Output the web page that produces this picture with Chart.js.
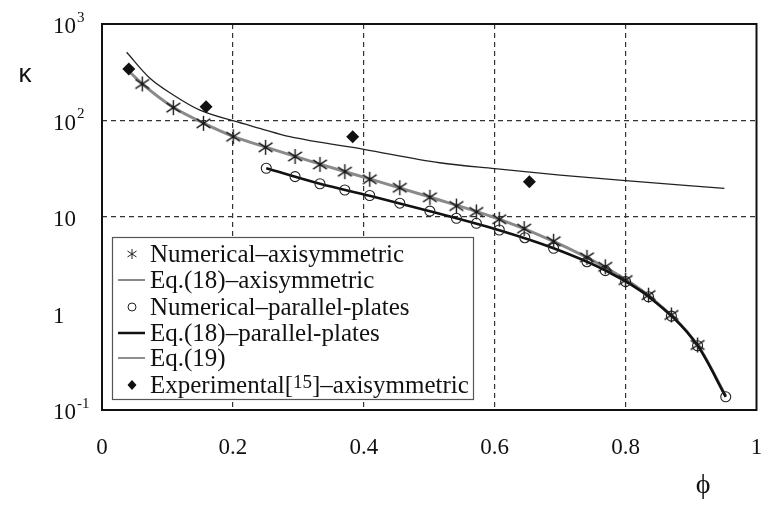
<!DOCTYPE html>
<html>
<head>
<meta charset="utf-8">
<script src="https://cdn.jsdelivr.net/npm/chart.js@4.4.1/dist/chart.umd.min.js"></script>
<style>
  html, body { margin: 0; padding: 0; background: #ffffff; }
  #wrap { width: 763px; height: 507px; }
</style>
</head>
<body>
<div id="wrap"><canvas id="c" width="763" height="507"></canvas></div>
<script>
// ---------- data ----------
const seriesNames = [
  'Numerical\u2013axisymmetric',
  'Eq.(18)\u2013axisymmetric',
  'Numerical\u2013parallel-plates',
  'Eq.(18)\u2013parallel-plates',
  'Eq.(19)',
  'Experimental[15]\u2013axisymmetric'
];

const xTickValues = [0, 0.2, 0.4, 0.6, 0.8, 1];
const yTickValues = [1000, 100, 10, 1, 0.1];
const yTickBase = ['10', '10', '10', '1', '10'];
const yTickExp = ['3', '2', '', '', '-1'];
const xAxisTitle = '\u03D5';
const yAxisTitle = '\u03BA';

// Numerical – axisymmetric (asterisks)
const phiNumAxi = [0.0615, 0.109, 0.155, 0.2005, 0.250, 0.295, 0.333, 0.371, 0.409, 0.455, 0.501, 0.5415, 0.572, 0.607, 0.645, 0.690, 0.741, 0.769, 0.800, 0.835, 0.870, 0.910];
const kNumAxi   = [239, 136, 93.5, 67.9, 52.7, 42.4, 35.0, 29.5, 24.6, 20.1, 16.0, 13.0, 11.3, 9.47, 7.58, 5.6, 3.82, 3.05, 2.22, 1.55, 0.965, 0.472];

// Eq.(18) – axisymmetric (grey curve)
const phiEqAxi = [0.040, 0.0615, 0.109, 0.155, 0.2005, 0.250, 0.333, 0.409, 0.501, 0.607, 0.690, 0.769, 0.835, 0.910, 0.953];
const kEqAxi   = [330, 240, 137, 94, 68.5, 53, 35.3, 24.8, 16.1, 9.5, 5.6, 3.0, 1.53, 0.47, 0.14];

// Numerical – parallel plates (circles)
const phiNumPP = [0.251, 0.295, 0.333, 0.371, 0.409, 0.455, 0.501, 0.5415, 0.572, 0.607, 0.646, 0.690, 0.741, 0.769, 0.800, 0.835, 0.870, 0.910, 0.953];
const kNumPP   = [32.0, 26.2, 22.1, 19.05, 16.7, 13.9, 11.5, 9.7, 8.6, 7.33, 6.1, 4.74, 3.44, 2.78, 2.14, 1.49, 0.94, 0.463, 0.137];

// Eq.(18) – parallel plates (thick black curve)
const phiEqPP = [0.251, 0.333, 0.409, 0.501, 0.607, 0.690, 0.769, 0.835, 0.910, 0.953];
const kEqPP   = [32, 22.1, 16.6, 11.5, 7.3, 4.75, 2.8, 1.5, 0.465, 0.137];

// Eq.(19) (thin black curve)
const phiEq19 = [0.0377, 0.0733, 0.109, 0.1496, 0.200, 0.241, 0.287, 0.400, 0.516, 0.600, 0.700, 0.800, 0.951];
const kEq19   = [509, 274, 184, 128, 99.5, 83, 68, 50.3, 36.5, 31.7, 27.2, 23.8, 19.8];

// Experimental [15] – axisymmetric (diamonds)
const phiExp = [0.041, 0.159, 0.383, 0.653];
const kExp   = [342, 139, 67.9, 23.2];

// ---------- helpers ----------
function pts(xs, ys) { return xs.map((x, i) => ({ x: x, y: ys[i] })); }

function makeAsterisk(size, lw) {
  const c = document.createElement('canvas');
  c.width = size; c.height = size;
  const g = c.getContext('2d');
  const m = size / 2, r = size / 2 - 1;
  g.strokeStyle = '#1a1a1a';
  g.lineWidth = lw;
  g.beginPath();
  g.moveTo(m, m - r); g.lineTo(m, m + r);
  const dx = r * 0.92, dy = r * 0.62;
  g.moveTo(m - dx, m - dy); g.lineTo(m + dx, m + dy);
  g.moveTo(m - dx, m + dy); g.lineTo(m + dx, m - dy);
  g.stroke();
  return c;
}
const asteriskBig = makeAsterisk(17, 1.4);

const SERIF = '"Liberation Serif", "Times New Roman", serif';

// ---------- custom drawing plugin ----------
const decor = {
  id: 'decor',
  afterDraw(chart) {
    const ctx = chart.ctx, a = chart.chartArea;
    const ys = chart.scales.y;
    ctx.save();

    // legend box
    const lx = 112, ly = 237, lw = 361, lh = 162;
    ctx.fillStyle = '#fff';
    ctx.fillRect(lx, ly, lw, lh);
    ctx.strokeStyle = '#555';
    ctx.lineWidth = 1.2;
    ctx.strokeRect(lx + 0.5, ly + 0.5, lw, lh);

    const rows = [254, 280, 307, 333, 358, 385];
    const sx = 132;
    ctx.fillStyle = '#111';
    ctx.textBaseline = 'middle';
    ctx.textAlign = 'left';
    seriesNames.forEach((n, i) => {
      const m = n.match(/^(.*\[)(\d+)(\].*)$/);
      ctx.font = '25px ' + SERIF;
      if (!m) { ctx.fillText(n, 150, rows[i] + 1); return; }
      let x = 150;
      ctx.fillText(m[1], x, rows[i] + 1); x += ctx.measureText(m[1]).width;
      ctx.font = '19px ' + SERIF;
      ctx.fillText(m[2], x, rows[i] - 2); x += ctx.measureText(m[2]).width;
      ctx.font = '25px ' + SERIF;
      ctx.fillText(m[3], x, rows[i] + 1);
    });

    // asterisk small
    ctx.strokeStyle = '#222'; ctx.lineWidth = 1;
    ctx.beginPath();
    ctx.moveTo(sx, rows[0] - 5); ctx.lineTo(sx, rows[0] + 5);
    ctx.moveTo(sx - 4.5, rows[0] - 3); ctx.lineTo(sx + 4.5, rows[0] + 3);
    ctx.moveTo(sx - 4.5, rows[0] + 3); ctx.lineTo(sx + 4.5, rows[0] - 3);
    ctx.stroke();
    // grey line
    ctx.strokeStyle = '#8a8a8a'; ctx.lineWidth = 2;
    ctx.beginPath(); ctx.moveTo(118, rows[1]); ctx.lineTo(145, rows[1]); ctx.stroke();
    // circle
    ctx.strokeStyle = '#222'; ctx.lineWidth = 1;
    ctx.beginPath(); ctx.arc(sx, rows[2], 4, 0, Math.PI * 2); ctx.stroke();
    // black thick line
    ctx.strokeStyle = '#111'; ctx.lineWidth = 2.5;
    ctx.beginPath(); ctx.moveTo(118, rows[3]); ctx.lineTo(145, rows[3]); ctx.stroke();
    // thin line
    ctx.strokeStyle = '#444'; ctx.lineWidth = 1.2;
    ctx.beginPath(); ctx.moveTo(118, rows[4]); ctx.lineTo(145, rows[4]); ctx.stroke();
    // diamond
    ctx.fillStyle = '#111';
    ctx.beginPath();
    ctx.moveTo(sx, rows[5] - 5); ctx.lineTo(sx + 4.5, rows[5]);
    ctx.lineTo(sx, rows[5] + 5); ctx.lineTo(sx - 4.5, rows[5]);
    ctx.closePath(); ctx.fill();

    // plot frame
    ctx.strokeStyle = '#111';
    ctx.lineWidth = 2;
    ctx.strokeRect(a.left, a.top, a.right - a.left, a.bottom - a.top);

    // y tick labels with superscripts
    ctx.fillStyle = '#111';
    ctx.textBaseline = 'middle';
    ctx.textAlign = 'left';
    yTickValues.forEach((v, i) => {
      const y = ys.getPixelForValue(v);
      ctx.font = '23px ' + SERIF;
      const base = yTickBase[i];
      ctx.fillText(base, 53, y + 3);
      const w = ctx.measureText(base).width;
      if (yTickExp[i]) {
        ctx.font = '15px ' + SERIF;
        ctx.fillText(yTickExp[i], 53 + w + 1, y - 6);
      }
    });

    // axis titles
    ctx.font = '26px "Liberation Sans", Arial, sans-serif';
    ctx.textAlign = 'center';
    ctx.fillText(yAxisTitle, 25, 75);
    ctx.font = '28px ' + SERIF;
    ctx.fillText(xAxisTitle, 703, 486);

    ctx.restore();
  }
};

const gridColor = (ctx) => {
  const v = ctx.tick ? ctx.tick.value : null;
  if (v === null) return 'rgba(0,0,0,0)';
  if (Math.abs(v - 0) < 1e-9 || Math.abs(v - 1) < 1e-9 || Math.abs(v - 0.1) < 1e-9 || Math.abs(v - 1000) < 1e-6) {
    return 'rgba(0,0,0,0)';
  }
  return '#333';
};

new Chart(document.getElementById('c'), {
  type: 'scatter',
  data: {
    datasets: [
      { label: seriesNames[0], data: pts(phiNumAxi, kNumAxi), pointStyle: asteriskBig, showLine: false },
      { label: seriesNames[2], data: pts(phiNumPP, kNumPP), pointStyle: 'circle', pointRadius: 5, pointBorderWidth: 1.1,
        pointBorderColor: '#222', pointBackgroundColor: 'rgba(0,0,0,0)', showLine: false },
      { label: seriesNames[5], data: pts(phiExp, kExp), pointStyle: 'rectRot', pointRadius: 6.5, pointBorderWidth: 0,
        pointBackgroundColor: '#111', pointBorderColor: '#111', showLine: false },
      { label: seriesNames[3], data: pts(phiEqPP, kEqPP), showLine: true, borderColor: '#111', borderWidth: 2.6,
        pointRadius: 0, cubicInterpolationMode: 'monotone', fill: false },
      { label: seriesNames[1], data: pts(phiEqAxi, kEqAxi), showLine: true, borderColor: '#8a8a8a', borderWidth: 3,
        pointRadius: 0, cubicInterpolationMode: 'monotone', fill: false },
      { label: seriesNames[4], data: pts(phiEq19, kEq19), showLine: true, borderColor: '#222', borderWidth: 1.3,
        pointRadius: 0, cubicInterpolationMode: 'monotone', fill: false }
    ]
  },
  options: {
    responsive: false,
    devicePixelRatio: 1,
    animation: false,
    events: [],
    layout: { padding: { top: 24, right: 6, left: 0, bottom: 0 } },
    plugins: { legend: { display: false }, tooltip: { enabled: false } },
    scales: {
      x: {
        type: 'linear', min: 0, max: 1,
        afterBuildTicks: (s) => { s.ticks = xTickValues.map(v => ({ value: v })); },
        afterFit: (s) => { s.height = 97; s.paddingLeft = 0; s.paddingRight = 0; },
        ticks: {
          padding: 24,
          color: '#111',
          font: { family: SERIF, size: 23 },
          callback: (v) => String(+v.toFixed(1)),
          maxRotation: 0,
          autoSkip: false
        },
        grid: { color: gridColor, lineWidth: 1.2, drawTicks: false },
        border: { display: false, dash: [5, 4] }
      },
      y: {
        type: 'logarithmic', min: 0.1, max: 1000,
        afterBuildTicks: (s) => { s.ticks = yTickValues.map(v => ({ value: v })); },
        afterFit: (s) => { s.width = 102; s.paddingTop = 0; s.paddingBottom = 0; },
        ticks: { display: false },
        grid: { color: gridColor, lineWidth: 1.2, drawTicks: false },
        border: { display: false, dash: [5, 4] }
      }
    }
  },
  plugins: [decor]
});
</script>
</body>
</html>
